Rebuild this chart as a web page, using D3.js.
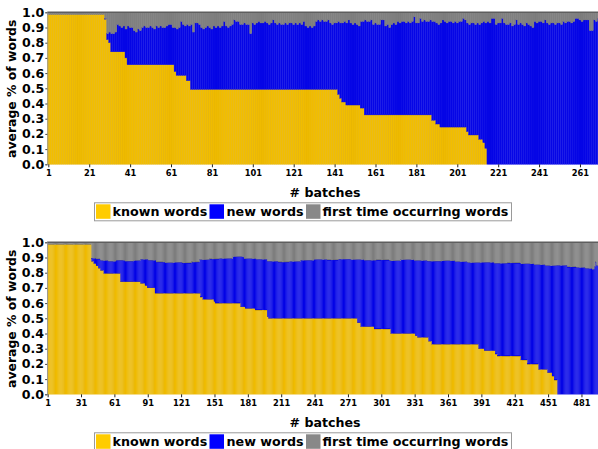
<!DOCTYPE html>
<html>
<head>
<meta charset="utf-8">
<script src="https://cdn.jsdelivr.net/npm/d3@7"></script>
<style>
body { margin: 0; background: #fff; }
text { font-family: "DejaVu Sans", sans-serif; font-weight: bold; fill: #000; }
</style>
</head>
<body>
<div id="chart"></div>
<script>
const width = 598;
const height = 449;

const seriesNames = ["known words", "new words", "first time occurring words"];
const seriesKeys = ["known", "new", "first"];

// upper chart (270 batches)
// known words as [number of batches, share]
const topKnownRuns = [[28,0.985],[1,0.955],[1,0.82],[1,0.80],[7,0.74],[1,0.70],[23,0.655],[1,0.61],[5,0.585],[2,0.55],
  [72,0.493],[1,0.46],[1,0.435],[2,0.41],[7,0.39],[2,0.37],[33,0.325],[2,0.29],[2,0.265],[13,0.245],
  [1,0.215],[5,0.193],[2,0.165],[1,0.142],[1,0.105],[55,0]];
// known + new words (%), batch 29 .. 270 ; before that there are no new words
const topNewFrom = 29;
const topCover = [
  96,86,87,86,86,87,92,91,90,91,
  89,91,90,90,88,87,89,88,90,91,
  90,90,91,90,89,91,90,91,90,90,
  91,92,92,90,90,89,90,94,92,91,
  92,91,92,87,93,93,92,90,89,90,
  91,90,89,91,90,91,90,91,94,91,
  90,91,92,95,94,94,92,92,93,92,
  92,86,93,92,93,94,93,93,94,93,
  92,93,95,93,92,93,92,92,93,92,
  93,93,92,93,92,93,92,94,91,90,
  91,90,91,94,95,94,95,94,94,95,
  93,92,93,93,94,93,93,94,93,95,
  93,92,93,92,91,94,94,95,94,94,
  95,92,93,92,92,95,95,91,92,90,
  92,93,92,94,93,94,94,93,94,93,
  94,97,93,93,96,94,95,94,94,95,
  94,94,93,92,93,95,94,93,94,94,
  93,94,93,94,94,96,95,93,92,93,
  93,92,93,92,93,94,93,94,93,96,
  96,92,93,93,96,93,92,92,93,91,
  92,95,92,93,92,91,93,92,91,90,
  94,93,94,94,93,95,93,92,93,93,
  92,93,93,92,94,93,94,94,93,94,
  96,96,95,94,95,95,95,88,88,95,
  94,96];
const topTicks = [1, 21, 41, 61, 81, 101, 121, 141, 161, 181, 201, 221, 241, 261];

// lower chart (496 batches)
const botKnownRuns = [[40,0.985],[2,0.875],[2,0.86],[2,0.845],[2,0.83],[3,0.815],[15,0.795],[18,0.74],[4,0.73],[2,0.715],
  [7,0.70],[41,0.665],[2,0.64],[10,0.625],[1,0.61],[23,0.60],[4,0.575],[9,0.565],[11,0.555],[1,0.51],
  [80,0.50],[3,0.47],[12,0.445],[15,0.43],[22,0.40],[2,0.385],[10,0.375],[3,0.35],[42,0.33],[5,0.30],
  [10,0.287],[2,0.265],[21,0.252],[6,0.226],[10,0.199],[8,0.164],[4,0.142],[2,0.12],[3,0.094],[37,0]];
// known + new words from batch 41 on, as [number of batches, share]
const botNewFrom = 41;
const botCoverRuns = [[4,0.895],[4,0.89],[7,0.88],[7,0.875],[8,0.882],[8,0.876],[6,0.88],[7,0.888],[7,0.882],[8,0.87],
  [8,0.865],[8,0.868],[8,0.864],[7,0.87],[9,0.885],[9,0.89],[12,0.893],[10,0.905],[11,0.892],[10,0.888],
  [10,0.875],[10,0.87],[10,0.874],[12,0.882],[12,0.887],[10,0.884],[11,0.889],[12,0.886],[11,0.882],[12,0.884],
  [10,0.878],[12,0.885],[12,0.88],[13,0.876],[12,0.878],[11,0.872],[12,0.866],[12,0.868],[12,0.862],[12,0.864],
  [12,0.858],[10,0.852],[10,0.846],[10,0.848],[8,0.838],[8,0.834],[6,0.828],[2,0.822],[1,0.84],[1,0.87],[2,0.845]];
const botTicks = [1, 31, 61, 91, 121, 151, 181, 211, 241, 271, 301, 331, 361, 391, 421, 451, 481];

const yTicks = [0, 0.1, 0.2, 0.3, 0.4, 0.5, 0.6, 0.7, 0.8, 0.9, 1.0];

const fill = {known: "#f2be00", new: "#0606e6", first: "#808080"};
const edge = {known: "#dcaa00", new: "#0606e6", first: "#747474"};
const swatch = {known: "#ffcc00", new: "#0000ff", first: "#888888"};

function expand(runs) {
  return runs.flatMap(([n, v]) => Array(n).fill(v));
}

function buildRows(known, coverAt) {
  return known.map((k, i) => {
    const total = coverAt(i + 1, k);
    return {batch: i + 1, known: k, new: total - k, first: 1 - total};
  });
}

const topKnown = expand(topKnownRuns);
const topRows = buildRows(topKnown, (b, k) => b < topNewFrom ? k : topCover[b - topNewFrom] / 100);

const botKnown = expand(botKnownRuns);
const botCover = expand(botCoverRuns);
const botRows = buildRows(botKnown, (b, k) => b < botNewFrom ? k : botCover[b - botNewFrom]);

var svg = d3.select("#chart")
  .append("svg")
  .attr("width", width)
  .attr("height", height);

function drawPanel(rows, ticks, opt) {
  const n = rows.length;
  const x = d3.scaleLinear().domain([0.5, n + 0.5]).range([opt.left, opt.right]);
  const y = d3.scaleLinear().domain([0, 1]).range([opt.bottom, opt.top]);
  const bw = x(1.5) - x(0.5);

  const g = svg.append("g");
  const stack = d3.stack().keys(seriesKeys)(rows);

  g.selectAll(".layer")
    .data(stack)
    .enter()
    .append("g")
    .attr("class", "layer")
    .attr("fill", d => fill[d.key])
    .attr("stroke", d => edge[d.key])
    .attr("stroke-width", opt.edgeWidth)
    .selectAll("rect")
    .data(d => d.filter(s => s[1] - s[0] > 0))
    .enter()
    .append("rect")
    .attr("x", d => x(d.data.batch) - bw / 2)
    .attr("width", bw)
    .attr("y", d => y(d[1]))
    .attr("height", d => y(d[0]) - y(d[1]));

  // top border
  g.append("line")
    .attr("x1", x(0.5)).attr("x2", width)
    .attr("y1", y(1)).attr("y2", y(1))
    .attr("stroke", "#5e5e5e").attr("stroke-width", 1.6);

  // y axis
  const yAxis = g.append("g")
    .attr("transform", `translate(${x(0.5)},0)`)
    .call(d3.axisLeft(y).tickValues(yTicks).tickFormat(d3.format(".1f")).tickSize(2).tickPadding(1));
  yAxis.select(".domain").attr("stroke", "#999");
  yAxis.selectAll(".tick line").attr("stroke", "#444");
  yAxis.selectAll("text").style("font-size", "12.6px").attr("fill", "#000");

  // x axis
  const xAxis = g.append("g")
    .attr("transform", `translate(0,${opt.bottom})`)
    .call(d3.axisBottom(x).tickValues(ticks).tickFormat(d3.format("d")).tickSize(3).tickPadding(2.5));
  xAxis.select(".domain").remove();
  xAxis.selectAll(".tick line").attr("stroke", "#222");
  xAxis.selectAll("text").style("font-size", "8.3px").attr("fill", "#000");

  g.append("text")
    .attr("transform", `translate(15.5,${(opt.top + opt.bottom) / 2 + 0.5}) rotate(-90)`)
    .attr("text-anchor", "middle")
    .style("font-size", "12.4px")
    .text("average % of words");

  g.append("text")
    .attr("x", 325)
    .attr("y", opt.bottom + 33)
    .attr("text-anchor", "middle")
    .style("font-size", "12.6px")
    .text("# batches");

  // legend
  const ly = opt.bottom + 38;
  const lg = g.append("g").attr("transform", `translate(0,${ly})`);
  lg.append("rect")
    .attr("x", 94.5).attr("y", 0.5)
    .attr("width", 417).attr("height", 18)
    .attr("fill", "#fff").attr("stroke", "#9a9a9a").attr("stroke-width", 1);
  const items = [
    {key: "known", sx: 96, tx: 112.5},
    {key: "new", sx: 209.5, tx: 226.5},
    {key: "first", sx: 306, tx: 322.5}
  ];
  items.forEach((it, i) => {
    lg.append("rect")
      .attr("x", it.sx).attr("y", 2)
      .attr("width", 14.5).attr("height", 14.5)
      .attr("fill", swatch[it.key]);
    lg.append("text")
      .attr("x", it.tx).attr("y", 14)
      .style("font-size", "12.7px")
      .text(seriesNames[i]);
  });
}

drawPanel(topRows, topTicks, {left: 47.3, right: 599.4, top: 12.3, bottom: 164.3, edgeWidth: 0.35});
drawPanel(botRows, botTicks, {left: 47.1, right: 598.7, top: 242.3, bottom: 394.3, edgeWidth: 0.2});
</script>
</body>
</html>
